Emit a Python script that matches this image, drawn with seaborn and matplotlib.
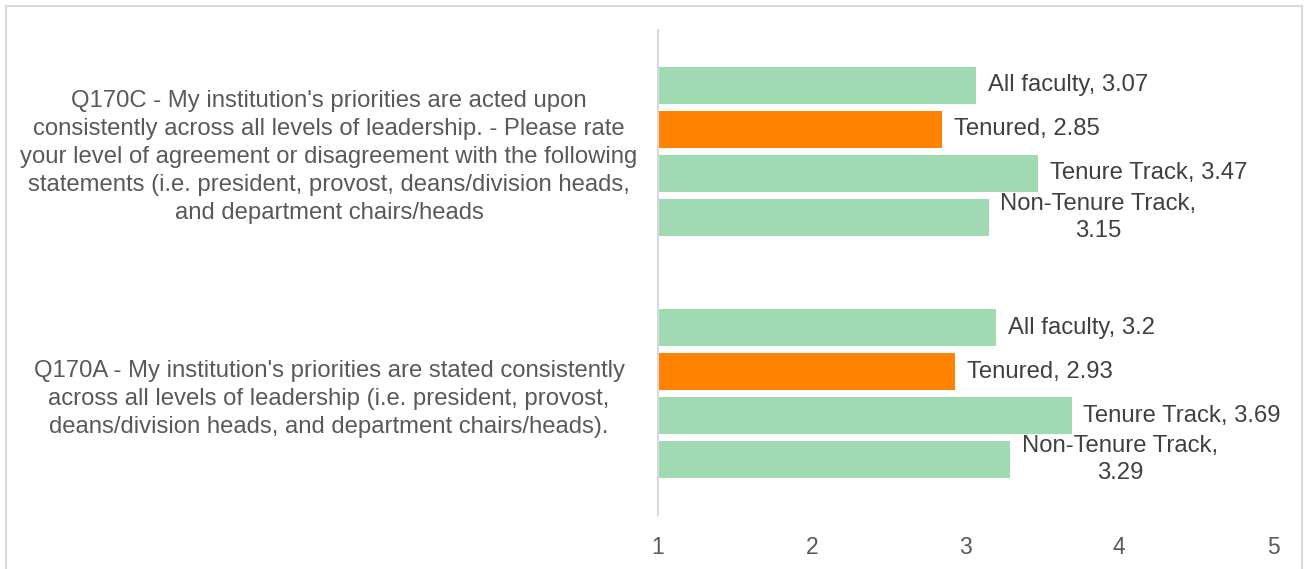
import matplotlib
matplotlib.use("Agg")
import matplotlib.pyplot as plt
import matplotlib.transforms as mtransforms
import seaborn as sns
import pandas as pd
from matplotlib.patches import Rectangle

questions = [
    "Q170C - My institution's priorities are acted upon\nconsistently across all levels of leadership. - Please rate\nyour level of agreement or disagreement with the following\nstatements (i.e. president, provost, deans/division heads,\nand department chairs/heads",
    "Q170A - My institution's priorities are stated consistently\nacross all levels of leadership (i.e. president, provost,\ndeans/division heads, and department chairs/heads).",
]
groups = ["All faculty", "Tenured", "Tenure Track", "Non-Tenure Track"]
q170c_values = [3.07, 2.85, 3.47, 3.15]
q170a_values = [3.2, 2.93, 3.69, 3.29]
value_labels = [
    ["All faculty, 3.07", "Tenured, 2.85", "Tenure Track, 3.47", "Non-Tenure Track,\n3.15"],
    ["All faculty, 3.2", "Tenured, 2.93", "Tenure Track, 3.69", "Non-Tenure Track,\n3.29"],
]
x_ticks = [1, 2, 3, 4, 5]

rows = []
for q, vals in zip(questions, [q170c_values, q170a_values]):
    for g, v in zip(groups, vals):
        rows.append({"question": q, "group": g, "value": v})
df = pd.DataFrame(rows)

sns.set_theme(style="white")
plt.rcParams["font.family"] = ["Liberation Sans", "DejaVu Sans"]

green = "#A0DAB3"
orange = "#FF8200"
palette = {"All faculty": green, "Tenured": orange, "Tenure Track": green, "Non-Tenure Track": green}

FS = 17.2

fig = plt.figure(figsize=(13.04, 5.69), dpi=100)
ax = fig.add_axes([658 / 1304, 1 - 515 / 569, (1273 - 658) / 1304, (515 - 30) / 569])

sns.barplot(data=df, y="question", x="value", hue="group", order=questions,
            hue_order=groups, palette=palette, orient="h", width=0.725, gap=0.16,
            legend=False, ax=ax, saturation=1, edgecolor="none")

ax.set_xlim(1, 5)
ax.set_ylim(1.5, -0.5)
ax.set_xticks(x_ticks)
ax.set_xticklabels([str(t) for t in x_ticks])
ax.set_xlabel("")
ax.set_ylabel("")
ax.tick_params(axis="x", length=0, labelsize=16.5, colors="#595959", pad=15)
ax.tick_params(axis="y", length=0, labelsize=FS, colors="#595959", pad=20)
for lbl in ax.get_yticklabels():
    lbl.set_horizontalalignment("center")
    lbl.set_multialignment("center")
    lbl.set_linespacing(1.36)
    lbl.set_transform(mtransforms.blended_transform_factory(fig.transFigure, ax.transData))
    lbl.set_x(329 / 1304)

for s in ["top", "right", "bottom"]:
    ax.spines[s].set_visible(False)
ax.spines["left"].set_color("#D9D9D9")
ax.spines["left"].set_linewidth(1.5)

# data labels
for ci, cont in enumerate(ax.containers):
    for qi, bar in enumerate(cont):
        w = bar.get_x() + bar.get_width()
        yc = bar.get_y() + bar.get_height() / 2
        txt = value_labels[qi][ci]
        ax.annotate(txt, (w, yc), xytext=(8.5, 0), textcoords="offset points",
                    ha="left", va="center", multialignment="center",
                    fontsize=FS, color="#404040", linespacing=1.3)

# outer chart border
fig.patches.append(Rectangle((5.5 / 1304, -0.1), (1302 - 5.5) / 1304, 1.1 - 5.5 / 569,
                             transform=fig.transFigure, fill=False,
                             edgecolor="#D9D9D9", linewidth=1.5))

fig.savefig("out.png", dpi=100)
